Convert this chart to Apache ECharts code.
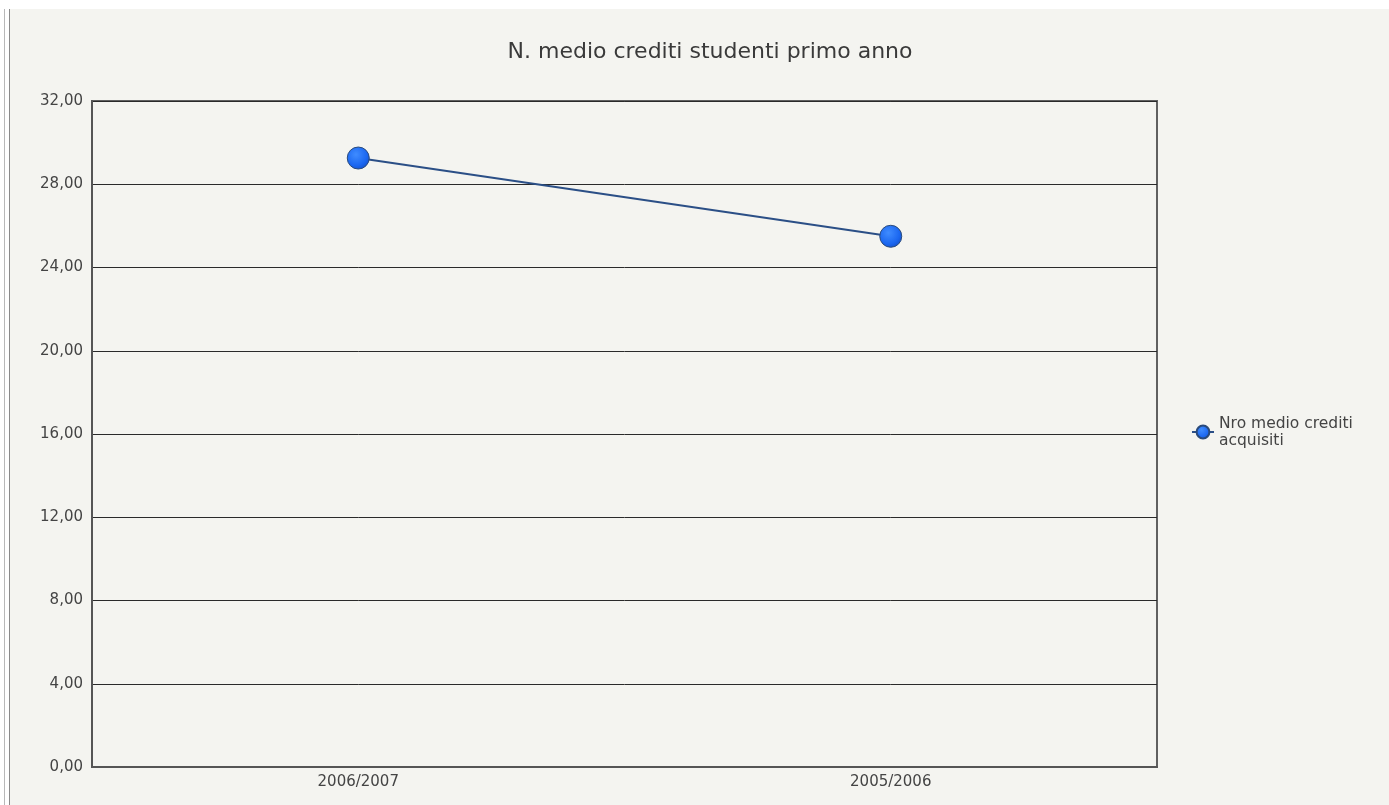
<!DOCTYPE html>
<html><head><meta charset="utf-8">
<script src="https://cdn.jsdelivr.net/npm/echarts@6/dist/echarts.min.js"></script>
<style>
html,body{margin:0;padding:0;background:#fff;width:1389px;height:805px;overflow:hidden;}
#l1{position:absolute;left:4px;top:9px;width:1px;height:796px;background:#b8b8b8;}
#l2{position:absolute;left:9px;top:9px;width:1px;height:796px;background:#8a8a8a;}
#c{position:absolute;left:10px;top:9px;width:1379px;height:796px;background:#f4f4f0;}
</style></head><body>
<div id="l1"></div><div id="l2"></div>
<div id="c"></div>
<script>
const title = "N. medio crediti studenti primo anno";
const categories = ["2006/2007", "2005/2006"];
const seriesName = "Nro medio crediti\nacquisiti";
const values = [29.26, 25.5];
const yTicks = {min: 0, max: 32, interval: 4};

const chart = echarts.init(document.getElementById('c'));
chart.setOption({
  animation: false,
  backgroundColor: 'transparent',
  textStyle: {fontFamily: 'DejaVu Sans'},
  title: {text: title, left: 695, top: 27, textAlign: 'center',
    textStyle: {fontSize: 22, fontWeight: 'normal', color: '#3a3a3a', fontFamily: 'DejaVu Sans'}},
  legend: {
    left: 1176, top: 401, orient: 'vertical',
    itemWidth: 22, itemHeight: 16, itemGap: 4,
    textStyle: {fontSize: 15.5, color: '#444', lineHeight: 17},
    data: [seriesName]
  },
  grid: {left: 82, top: 92, width: 1065, height: 666, show: true,
    borderColor: '#606060', borderWidth: 2, backgroundColor: 'transparent'},
  xAxis: {
    type: 'category', data: categories, boundaryGap: true,
    axisLine: {show: true, lineStyle: {color: '#555', width: 2}},
    axisTick: {show: false},
    axisLabel: {fontSize: 15, color: '#444', margin: 8}
  },
  yAxis: {
    type: 'value', min: yTicks.min, max: yTicks.max, interval: yTicks.interval,
    axisLine: {show: true, lineStyle: {color: '#555', width: 2}},
    axisTick: {show: false},
    axisLabel: {fontSize: 15, color: '#444', margin: 9,
      formatter: v => v.toFixed(2).replace('.', ',')},
    splitLine: {show: true, lineStyle: {color: '#2a2a2a', width: 1}}
  },
  series: [{
    name: seriesName, type: 'line', data: values,
    symbol: 'circle', symbolSize: 22,
    lineStyle: {color: '#2b4f86', width: 2},
    itemStyle: {
      color: new echarts.graphic.RadialGradient(0.4, 0.35, 0.7, [
        {offset: 0, color: '#3f8cff'}, {offset: 0.7, color: '#1a66f0'}, {offset: 1, color: '#1450c8'}]),
      borderColor: '#2a4a7a', borderWidth: 1
    }
  }]
});
</script>
</body></html>
